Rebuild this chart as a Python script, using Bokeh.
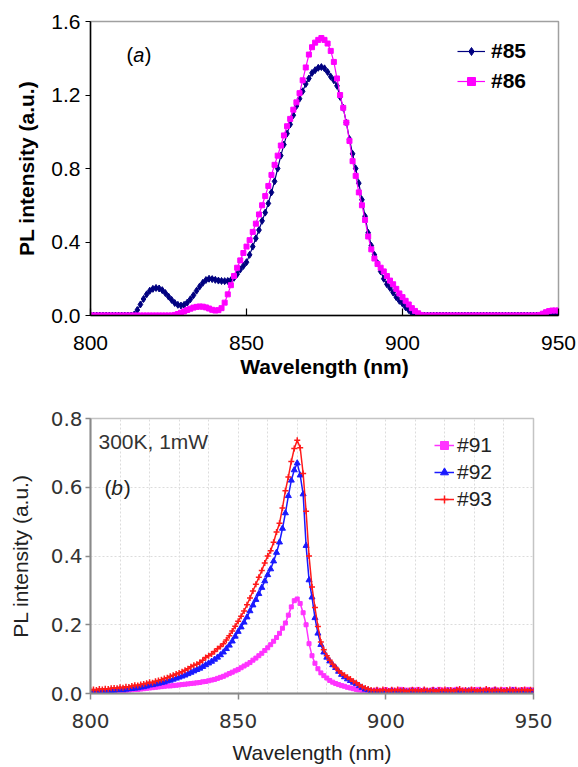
from bokeh.plotting import figure
from bokeh.layouts import column
from bokeh.models import Legend, LegendItem, Label, FixedTicker, PrintfTickFormatter, Range1d
from bokeh.embed import file_html
from bokeh.resources import INLINE

# ---------------- data: panel (a) ----------------
wl_a = list(range(800, 951))
pl_85 = [
    0, 0, 0, 0, 0, 0, 0, 0, 0, 0,
    0, 0, 0, 0, 0.005, 0.03, 0.06, 0.09, 0.115, 0.135,
    0.145, 0.15, 0.147, 0.138, 0.122, 0.103, 0.085, 0.068, 0.058, 0.054,
    0.058, 0.07, 0.088, 0.11, 0.135, 0.158, 0.178, 0.193, 0.2, 0.198,
    0.194, 0.19, 0.188, 0.187, 0.188, 0.192, 0.205, 0.225, 0.25, 0.27,
    0.29, 0.33, 0.375, 0.42, 0.465, 0.515, 0.56, 0.61, 0.67, 0.73,
    0.8, 0.87, 0.93, 0.99, 1.04, 1.09, 1.14, 1.18, 1.22, 1.26,
    1.29, 1.32, 1.335, 1.348, 1.352, 1.345, 1.325, 1.3, 1.28, 1.25,
    1.19, 1.13, 1.05, 0.96, 0.88, 0.8, 0.72, 0.63, 0.54, 0.45,
    0.38, 0.33, 0.285, 0.24, 0.2, 0.17, 0.15, 0.125, 0.1, 0.08,
    0.065, 0.045, 0.03, 0.012, 0, 0, 0, 0, 0, 0,
    0, 0, 0, 0, 0, 0, 0, 0, 0, 0,
    0, 0, 0, 0, 0, 0, 0, 0, 0, 0,
    0, 0, 0, 0, 0, 0, 0, 0, 0, 0,
    0, 0, 0, 0, 0, 0.003, 0.006, 0.008, 0.008, 0.008,
    0.008,
]
pl_86 = [
    0, 0, 0, 0, 0, 0, 0, 0, 0, 0,
    0, 0, 0, 0, 0, 0, 0, 0, 0, 0,
    0, 0, 0, 0, 0, 0, 0, 0.003, 0.008, 0.015,
    0.022, 0.03, 0.037, 0.043, 0.047, 0.049, 0.048, 0.044, 0.038, 0.031,
    0.027, 0.029, 0.04, 0.07, 0.115, 0.165, 0.215, 0.26, 0.3, 0.34,
    0.375, 0.41, 0.455, 0.5, 0.55, 0.6, 0.65, 0.705, 0.765, 0.82,
    0.87, 0.925, 0.98, 1.03, 1.07, 1.12, 1.16, 1.21, 1.28, 1.35,
    1.42, 1.46, 1.485, 1.5, 1.51, 1.5, 1.48, 1.44, 1.38, 1.29,
    1.2, 1.13, 1.05, 0.95, 0.84, 0.76, 0.67, 0.6, 0.52, 0.43,
    0.36, 0.31, 0.28, 0.26, 0.24, 0.215, 0.19, 0.17, 0.145, 0.12,
    0.1, 0.08, 0.06, 0.04, 0.025, 0.012, 0.003, 0, 0, 0,
    0, 0, 0, 0, 0, 0, 0, 0, 0, 0,
    0, 0, 0, 0, 0, 0, 0, 0, 0, 0,
    0, 0, 0, 0, 0, 0, 0, 0, 0, 0,
    0, 0, 0, 0, 0.003, 0.01, 0.018, 0.024, 0.027, 0.027,
    0.027,
]
x_ticks = [800, 850, 900, 950]
y_ticks_a = [0.0, 0.4, 0.8, 1.2, 1.6]

# ---------------- data: panel (b) ----------------
wl_b = list(range(800, 951))
pl_91 = [
    0.003, 0.004, 0.003, 0.005, 0.004, 0.005, 0.006, 0.005, 0.007, 0.007,
    0.008, 0.009, 0.009, 0.01, 0.011, 0.012, 0.012, 0.013, 0.014, 0.015,
    0.016, 0.017, 0.018, 0.019, 0.02, 0.021, 0.022, 0.022, 0.023, 0.024,
    0.025, 0.026, 0.027, 0.028, 0.029, 0.03, 0.031, 0.032, 0.034, 0.035,
    0.037, 0.039, 0.041, 0.044, 0.047, 0.05, 0.054, 0.058, 0.062, 0.066,
    0.07, 0.075, 0.08, 0.085, 0.09, 0.097, 0.103, 0.11, 0.117, 0.125,
    0.133, 0.142, 0.152, 0.163, 0.175, 0.19, 0.205, 0.228, 0.252, 0.27,
    0.275, 0.262, 0.235, 0.2, 0.145, 0.11, 0.088, 0.072, 0.06, 0.052,
    0.045, 0.038, 0.033, 0.029, 0.026, 0.023, 0.021, 0.018, 0.016, 0.014,
    0.012, 0.01, 0.009, 0.008, 0.007, 0.006, 0.008, 0.01, 0.007, 0.009,
    0.011, 0.008, 0.01, 0.006, 0.009, 0.012, 0.008, 0.01, 0.007, 0.011,
    0.009, 0.012, 0.008, 0.01, 0.006, 0.009, 0.011, 0.008, 0.012, 0.01,
    0.007, 0.011, 0.009, 0.01, 0.012, 0.008, 0.01, 0.006, 0.009, 0.011,
    0.008, 0.012, 0.01, 0.007, 0.011, 0.009, 0.01, 0.012, 0.008, 0.01,
    0.011, 0.009, 0.007, 0.012, 0.01, 0.008, 0.011, 0.009, 0.012, 0.01,
    0.009,
]
pl_92 = [
    0.004, 0.005, 0.004, 0.006, 0.005, 0.007, 0.006, 0.008, 0.009, 0.01,
    0.011, 0.01, 0.012, 0.013, 0.014, 0.015, 0.016, 0.018, 0.019, 0.021,
    0.024, 0.025, 0.027, 0.029, 0.031, 0.033, 0.036, 0.038, 0.041, 0.044,
    0.047, 0.05, 0.053, 0.057, 0.061, 0.065, 0.069, 0.073, 0.078, 0.083,
    0.088, 0.093, 0.099, 0.105, 0.112, 0.12, 0.13, 0.14, 0.152, 0.166,
    0.18, 0.193, 0.207, 0.222, 0.24, 0.257, 0.273, 0.29, 0.308, 0.327,
    0.345, 0.362, 0.385, 0.41, 0.44, 0.48, 0.525, 0.575, 0.62, 0.65,
    0.67, 0.635, 0.58, 0.43, 0.33, 0.28, 0.22, 0.175, 0.142, 0.12,
    0.105, 0.094, 0.083, 0.075, 0.064, 0.055, 0.048, 0.042, 0.037, 0.032,
    0.028, 0.022, 0.017, 0.012, 0.01, 0.006, 0.004, 0.007, 0.003, 0.005,
    0.006, 0.004, 0.008, 0.005, 0.003, 0.006, 0.007, 0.004, 0.005, 0.008,
    0.004, 0.006, 0.003, 0.007, 0.005, 0.004, 0.008, 0.005, 0.006, 0.003,
    0.005, 0.007, 0.004, 0.006, 0.008, 0.005, 0.003, 0.006, 0.007, 0.004,
    0.006, 0.005, 0.008, 0.004, 0.006, 0.007, 0.005, 0.009, 0.004, 0.006,
    0.005, 0.007, 0.004, 0.008, 0.006, 0.005, 0.007, 0.004, 0.006, 0.008,
    0.005,
]
pl_93 = [
    0.01, 0.012, 0.01, 0.013, 0.012, 0.014, 0.013, 0.015, 0.016, 0.015,
    0.018, 0.017, 0.02, 0.019, 0.022, 0.024, 0.023, 0.026, 0.028, 0.03,
    0.033, 0.031, 0.036, 0.038, 0.04, 0.044, 0.046, 0.05, 0.053, 0.057,
    0.06, 0.063, 0.068, 0.072, 0.078, 0.082, 0.085, 0.09, 0.097, 0.105,
    0.11, 0.115, 0.122, 0.13, 0.137, 0.145, 0.156, 0.168, 0.182, 0.196,
    0.21, 0.225, 0.24, 0.258, 0.278, 0.298, 0.318, 0.338, 0.358, 0.38,
    0.4, 0.415, 0.44, 0.47, 0.495, 0.54, 0.59, 0.63, 0.675, 0.713,
    0.737, 0.715, 0.64, 0.53, 0.4, 0.31, 0.25, 0.195, 0.15, 0.127,
    0.11, 0.097, 0.085, 0.076, 0.066, 0.059, 0.053, 0.047, 0.042, 0.036,
    0.031, 0.025, 0.02, 0.016, 0.013, 0.01, 0.009, 0.011, 0.008, 0.012,
    0.01, 0.007, 0.011, 0.009, 0.012, 0.008, 0.01, 0.006, 0.009, 0.011,
    0.008, 0.01, 0.007, 0.012, 0.009, 0.008, 0.011, 0.006, 0.01, 0.009,
    0.012, 0.008, 0.01, 0.007, 0.011, 0.013, 0.009, 0.01, 0.008, 0.012,
    0.01, 0.007, 0.011, 0.009, 0.013, 0.01, 0.008, 0.012, 0.009, 0.011,
    0.007, 0.01, 0.012, 0.008, 0.011, 0.009, 0.01, 0.012, 0.008, 0.011,
    0.01,
]
y_ticks_b = [0.0, 0.2, 0.4, 0.6, 0.8]
grid_x_b = [800, 810, 820, 830, 840, 850, 860, 870, 880, 890, 900, 910, 920, 930, 940, 950]

FONT = "Liberation Sans"

# ================= panel (a) =================
pa = figure(width=578, height=385, output_backend="svg", toolbar_location=None,
            x_range=Range1d(800, 950), y_range=Range1d(0, 1.6),
            min_border_left=90, min_border_right=20, min_border_top=21, min_border_bottom=70)
pa.grid.visible = False
pa.outline_line_color = "#a0a0a0"
pa.outline_line_width = 1.5

for ax in (pa.xaxis[0], pa.yaxis[0]):
    ax.axis_line_color = "black"
    ax.axis_line_width = 1.5
    ax.major_tick_line_color = "black"
    ax.major_tick_line_width = 1.2
    ax.minor_tick_line_color = None
    ax.major_label_text_font = FONT
    ax.major_label_text_font_size = "21px"
    ax.major_label_text_color = "black"
    ax.axis_label_text_font = FONT
    ax.axis_label_text_font_size = "21px"
    ax.axis_label_text_font_style = "bold"
    ax.axis_label_text_color = "black"

pa.xaxis.ticker = FixedTicker(ticks=x_ticks)
pa.xaxis.major_tick_in = 7
pa.xaxis.major_tick_out = 0
pa.xaxis.major_label_standoff = 20
pa.xaxis.axis_label = "Wavelength (nm)"
pa.xaxis.axis_label_standoff = 2

pa.yaxis.ticker = FixedTicker(ticks=y_ticks_a)
pa.yaxis.formatter = PrintfTickFormatter(format="%.1f")
pa.yaxis.major_tick_in = 0
pa.yaxis.major_tick_out = 5
pa.yaxis.major_label_standoff = 5
pa.yaxis.axis_label = "PL intensity (a.u.)"
pa.yaxis.axis_label_standoff = 10

c85 = "#000080"
c86 = "#ff00ff"
l85 = pa.line(wl_a, pl_85, line_color=c85, line_width=1.2)
s85 = pa.scatter(wl_a, pl_85, marker="diamond", size=7, fill_color=c85, line_color=c85)
l86 = pa.line(wl_a, pl_86, line_color=c86, line_width=1.2)
s86 = pa.scatter(wl_a, pl_86, marker="square", size=5, fill_color=c86, line_color=c86)

leg_a = Legend(items=[LegendItem(label="#85", renderers=[l85, s85]),
                      LegendItem(label="#86", renderers=[l86, s86])],
               location=(367, 222), orientation="vertical",
               glyph_width=28, glyph_height=20, label_height=20, label_standoff=6,
               spacing=6, padding=0, margin=0,
               border_line_alpha=0, background_fill_alpha=0,
               label_text_font=FONT, label_text_font_size="21px",
               label_text_font_style="bold", label_text_color="black")
pa.add_layout(leg_a)

for txt, xx, style in (("(", 811.5, "normal"), ("a", 813.7, "italic"), (")", 817.4, "normal")):
    pa.add_layout(Label(x=xx, y=1.415, text=txt, text_font=FONT, text_font_size="20px",
                        text_font_style=style, text_baseline="middle", text_color="black"))

# ================= panel (b) =================
pb = figure(width=553, height=382, output_backend="svg", toolbar_location=None,
            x_range=Range1d(800, 950), y_range=Range1d(0, 0.8),
            min_border_left=90, min_border_right=20, min_border_top=33, min_border_bottom=74)
pb.outline_line_color = "#c4c4c4"
pb.outline_line_width = 1.5
pb.xgrid.ticker = FixedTicker(ticks=grid_x_b)
pb.ygrid.ticker = FixedTicker(ticks=y_ticks_b)
pb.grid.grid_line_color = "#dcdcdc"
pb.grid.grid_line_dash = "2 2"
pb.grid.grid_line_width = 1

for ax in (pb.xaxis[0], pb.yaxis[0]):
    ax.axis_line_color = "#8a8a8a"
    ax.axis_line_width = 2
    ax.major_tick_line_color = "#8a8a8a"
    ax.major_tick_line_width = 1.5
    ax.minor_tick_line_color = None
    ax.major_label_text_font = "DejaVu Sans"
    ax.major_label_text_font_size = "20px"
    ax.major_label_text_color = "#333333"
    ax.axis_label_text_font = FONT
    ax.axis_label_text_font_size = "21px"
    ax.axis_label_text_font_style = "normal"
    ax.axis_label_text_color = "#222222"

pb.xaxis.ticker = FixedTicker(ticks=x_ticks)
pb.xaxis.major_tick_in = 0
pb.xaxis.major_tick_out = 6
pb.xaxis.major_label_standoff = 14
pb.xaxis.axis_label = "Wavelength (nm)"
pb.xaxis.axis_label_standoff = 10

pb.yaxis.ticker = FixedTicker(ticks=y_ticks_b)
pb.yaxis.formatter = PrintfTickFormatter(format="%.1f")
pb.yaxis.major_tick_in = 0
pb.yaxis.major_tick_out = 5
pb.yaxis.major_label_standoff = 3
pb.yaxis.axis_label = "PL intensity (a.u.)"
pb.yaxis.axis_label_standoff = 16

c91 = "#ff33ff"
c92 = "#1a1aff"
c93 = "#ff1a1a"
l91 = pb.line(wl_b, pl_91, line_color=c91, line_width=1.5)
s91 = pb.scatter(wl_b, pl_91, marker="square", size=4, fill_color=c91, line_color=c91)
l92 = pb.line(wl_b, pl_92, line_color=c92, line_width=1.5)
s92 = pb.scatter(wl_b, pl_92, marker="triangle", size=6, fill_color=c92, line_color=c92)
l93 = pb.line(wl_b, pl_93, line_color=c93, line_width=1.5)
s93 = pb.scatter(wl_b, pl_93, marker="cross", size=6, line_color=c93, line_width=1.5)

leg_b = Legend(items=[LegendItem(label="#91", renderers=[l91, s91]),
                      LegendItem(label="#92", renderers=[l92, s92]),
                      LegendItem(label="#93", renderers=[l93, s93])],
               location=(344, 182), orientation="vertical",
               glyph_width=20, glyph_height=20, label_height=20, label_standoff=3,
               spacing=3, padding=0, margin=0,
               border_line_alpha=0, background_fill_alpha=0,
               label_text_font=FONT, label_text_font_size="21px",
               label_text_color="#222222")
pb.add_layout(leg_b)

pb.add_layout(Label(x=802.7, y=0.734, text="300K, 1mW", text_font=FONT, text_font_size="21px",
                    text_baseline="middle", text_color="#333333"))
for txt, xx, style in (("(", 804.7, "normal"), ("b", 807.0, "italic"), (")", 811.3, "normal")):
    pb.add_layout(Label(x=xx, y=0.599, text=txt, text_font=FONT, text_font_size="21px",
                        text_font_style=style, text_baseline="middle", text_color="#222222"))

layout = column(pa, pb, spacing=0)
open("out.html", "w").write(file_html(layout, INLINE))
